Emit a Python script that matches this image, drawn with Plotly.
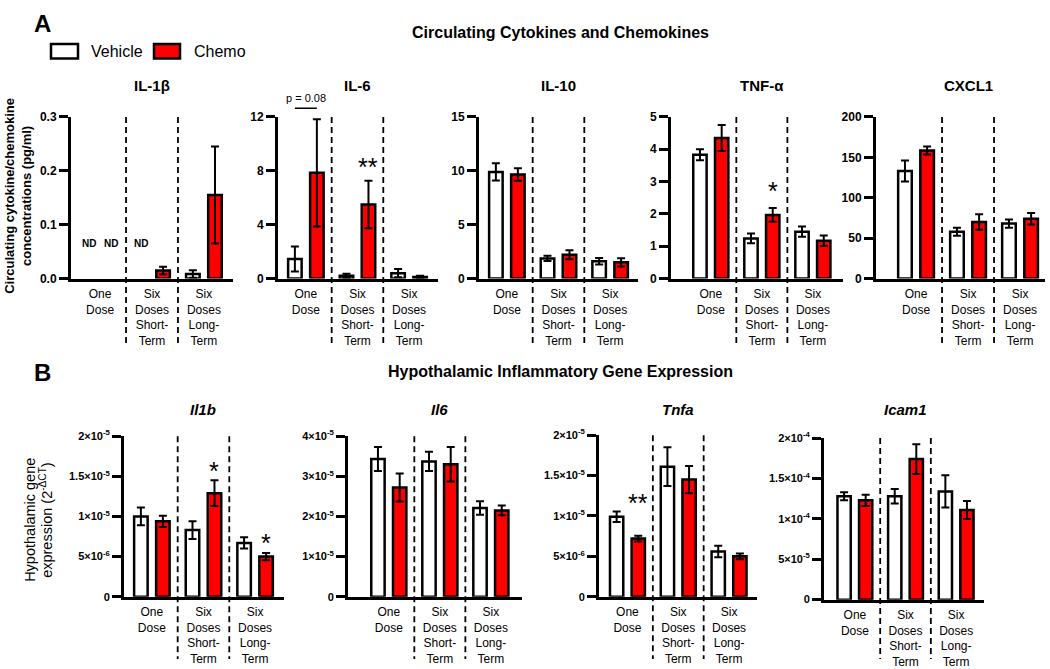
import plotly.graph_objects as go

W, H = 1050, 669
FONT = "Liberation Sans, Arial, Helvetica, sans-serif"

# ---------------- data ----------------
groups = ["One<br>Dose", "Six<br>Doses<br>Short-<br>Term", "Six<br>Doses<br>Long-<br>Term"]
series_names = ["Vehicle", "Chemo"]
series_colors = ["#ffffff", "#ff0000"]

# Panel A: circulating cytokines (pg/ml)
il1b_vehicle = [None, None, 0.0085]
il1b_vehicle_err = [None, None, 0.007]
il1b_chemo = [None, 0.015, 0.155]
il1b_chemo_err = [None, 0.007, 0.09]

il6_vehicle = [1.45, 0.2, 0.4]
il6_vehicle_err = [0.93, 0.15, 0.3]
il6_chemo = [7.85, 5.5, 0.12]
il6_chemo_err = [3.98, 1.77, 0.08]

il10_vehicle = [9.9, 1.87, 1.6]
il10_vehicle_err = [0.8, 0.25, 0.3]
il10_chemo = [9.67, 2.2, 1.5]
il10_chemo_err = [0.58, 0.42, 0.38]

tnf_vehicle = [3.83, 1.24, 1.45]
tnf_vehicle_err = [0.17, 0.15, 0.16]
tnf_chemo = [4.35, 1.97, 1.17]
tnf_chemo_err = [0.4, 0.21, 0.16]

cxcl1_vehicle = [133, 58, 68]
cxcl1_vehicle_err = [13, 5, 5]
cxcl1_chemo = [158.5, 70, 74]
cxcl1_chemo_err = [5, 9.5, 7]

# Panel B: hypothalamic gene expression (2^-dCT)
Il1b_vehicle = [1.0e-5, 8.3e-6, 6.7e-6]
Il1b_vehicle_err = [1.1e-6, 1.1e-6, 0.7e-6]
Il1b_chemo = [9.4e-6, 1.29e-5, 5.0e-6]
Il1b_chemo_err = [0.7e-6, 1.6e-6, 0.45e-6]

Il6_vehicle = [3.43e-5, 3.37e-5, 2.21e-5]
Il6_vehicle_err = [0.3e-5, 0.24e-5, 0.17e-5]
Il6_chemo = [2.72e-5, 3.3e-5, 2.15e-5]
Il6_chemo_err = [0.35e-5, 0.43e-5, 0.12e-5]

Tnfa_vehicle = [9.9e-6, 1.61e-5, 5.6e-6]
Tnfa_vehicle_err = [0.65e-6, 2.4e-6, 0.7e-6]
Tnfa_chemo = [7.2e-6, 1.45e-5, 5.0e-6]
Tnfa_chemo_err = [0.35e-6, 1.7e-6, 0.35e-6]

Icam1_vehicle = [1.28e-4, 1.28e-4, 1.34e-4]
Icam1_vehicle_err = [0.05e-4, 0.09e-4, 0.2e-4]
Icam1_chemo = [1.23e-4, 1.74e-4, 1.11e-4]
Icam1_chemo_err = [0.07e-4, 0.185e-4, 0.11e-4]

# tick labels
tick_il1b = [0, 0.1, 0.2, 0.3]
tick_il1b_text = ["0.0", "0.1", "0.2", "0.3"]
tick_il6 = [0, 4, 8, 12]
tick_il10 = [0, 5, 10, 15]
tick_tnf = [0, 1, 2, 3, 4, 5]
tick_cxcl1 = [0, 50, 100, 150, 200]
tick_gene2e5 = [0, 5e-6, 1e-5, 1.5e-5, 2e-5]
tick_gene2e5_text = ["0", "5×10<sup>-6</sup>", "1×10<sup>-5</sup>", "1.5×10<sup>-5</sup>", "2×10<sup>-5</sup>"]
tick_gene4e5 = [0, 1e-5, 2e-5, 3e-5, 4e-5]
tick_gene4e5_text = ["0", "1×10<sup>-5</sup>", "2×10<sup>-5</sup>", "3×10<sup>-5</sup>", "4×10<sup>-5</sup>"]
tick_icam = [0, 5e-5, 1e-4, 1.5e-4, 2e-4]
tick_icam_text = ["0", "5×10<sup>-5</sup>", "1×10<sup>-4</sup>", "1.5×10<sup>-4</sup>", "2×10<sup>-4</sup>"]

# significance marks: (panel title, group index, series index, text, y value)
sig_marks = [
    ("IL-6", 1, 1, "**", 8.75),
    ("TNF-α", 1, 1, "*", 2.89),
    ("<i>Il1b</i>", 1, 1, "*", 1.64e-5),
    ("<i>Il1b</i>", 2, 1, "*", 7.5e-6),
    ("<i>Tnfa</i>", 0, 1, "**", 1.23e-5),
    ("<i>Icam1</i>", 1, 1, "*", 2.07e-4),
]
nd_marks = [("IL-1β", 0, 0), ("IL-1β", 0, 1), ("IL-1β", 1, 0)]
nd_y = 0.065
pvalue_text = "p = 0.08"

# ---------------- layout of panels (pixel boxes) ----------------
panels = [
    dict(title="IL-1β", v=il1b_vehicle, ve=il1b_vehicle_err, c=il1b_chemo, ce=il1b_chemo_err,
         tv=tick_il1b, tt=tick_il1b_text, yr=[0, 0.3], box=(71, 233, 112, 278), xr=[-0.56, 2.56], row=0),
    dict(title="IL-6", v=il6_vehicle, ve=il6_vehicle_err, c=il6_chemo, ce=il6_chemo_err,
         tv=tick_il6, tt=[str(t) for t in tick_il6], yr=[0, 12], box=(278, 438, 112, 278), xr=[-0.54, 2.56], row=0),
    dict(title="IL-10", v=il10_vehicle, ve=il10_vehicle_err, c=il10_chemo, ce=il10_chemo_err,
         tv=tick_il10, tt=[str(t) for t in tick_il10], yr=[0, 15], box=(479, 638, 112, 278), xr=[-0.54, 2.54], row=0),
    dict(title="TNF-α", v=tnf_vehicle, ve=tnf_vehicle_err, c=tnf_chemo, ce=tnf_chemo_err,
         tv=tick_tnf, tt=[str(t) for t in tick_tnf], yr=[0, 5], box=(671, 843, 112, 278), xr=[-0.78, 2.59], row=0),
    dict(title="CXCL1", v=cxcl1_vehicle, ve=cxcl1_vehicle_err, c=cxcl1_chemo, ce=cxcl1_chemo_err,
         tv=tick_cxcl1, tt=[str(t) for t in tick_cxcl1], yr=[0, 200], box=(876, 1045, 112, 278), xr=[-0.77, 2.48], row=0),
    dict(title="<i>Il1b</i>", v=Il1b_vehicle, ve=Il1b_vehicle_err, c=Il1b_chemo, ce=Il1b_chemo_err,
         tv=tick_gene2e5, tt=tick_gene2e5_text, yr=[0, 2e-5], box=(124, 284, 440, 605), xr=[-0.54, 2.56], row=1),
    dict(title="<i>Il6</i>", v=Il6_vehicle, ve=Il6_vehicle_err, c=Il6_chemo, ce=Il6_chemo_err,
         tv=tick_gene4e5, tt=tick_gene4e5_text, yr=[0, 4e-5], box=(348, 522, 440, 605), xr=[-0.8, 2.61], row=1),
    dict(title="<i>Tnfa</i>", v=Tnfa_vehicle, ve=Tnfa_vehicle_err, c=Tnfa_chemo, ce=Tnfa_chemo_err,
         tv=tick_gene2e5, tt=tick_gene2e5_text, yr=[0, 2e-5], box=(599, 757, 439, 605), xr=[-0.56, 2.55], row=1),
    dict(title="<i>Icam1</i>", v=Icam1_vehicle, ve=Icam1_vehicle_err, c=Icam1_chemo, ce=Icam1_chemo_err,
         tv=tick_icam, tt=tick_icam_text, yr=[0, 2e-4], box=(824, 984, 442, 608), xr=[-0.61, 2.55], row=1),
]

BARGAP = 0.148
OFFSET = (1 - BARGAP) / 4  # centre offset of each bar within a group


def px_x(p):
    return p / W


def px_y(p):
    return (H - p) / H


fig = go.Figure()
shapes = []
annotations = []
title_idx = {}

for i, p in enumerate(panels):
    n = i + 1
    xa = "x" if n == 1 else f"x{n}"
    ya = "y" if n == 1 else f"y{n}"
    title_idx[p["title"]] = (xa, ya)
    for s, (vals, errs) in enumerate([(p["v"], p["ve"]), (p["c"], p["ce"])]):
        fig.add_trace(go.Bar(
            x=groups, y=vals, name=series_names[s], xaxis=xa, yaxis=ya,
            marker=dict(color=series_colors[s], line=dict(color="black", width=2.5)),
            error_y=dict(type="data", array=errs, visible=True, color="black", thickness=2, width=4),
            showlegend=False, cliponaxis=False, hoverinfo="skip",
        ))
    x0, x1, yt, yz = p["box"]
    fig.layout[f"xaxis{n}"] = dict(
        domain=[px_x(x0), px_x(x1)], anchor=ya, range=p["xr"], type="category",
        showline=True, linewidth=3, linecolor="black", ticks="", showgrid=False, zeroline=False,
        tickfont=dict(family=FONT, size=12, color="black"), ticklabelstandoff=2, fixedrange=True,
    )
    fig.layout[f"yaxis{n}"] = dict(
        domain=[px_y(yz), px_y(yt)], anchor=xa, range=p["yr"],
        tickvals=p["tv"], ticktext=p["tt"], tickmode="array",
        showline=True, linewidth=3, linecolor="black", ticks="outside", ticklen=9, tickwidth=2.5,
        tickcolor="black", showgrid=False, zeroline=False, fixedrange=True,
        tickfont=dict(family=FONT, size=12 if p["row"] == 0 else 11, color="black", weight="bold"),
    )
    # dashed separators between groups
    ybot = 345 if p["row"] == 0 else 669
    for xv in (0.5, 1.5):
        shapes.append(dict(type="line", xref=xa, yref="paper", x0=xv, x1=xv,
                           y0=px_y(yt), y1=px_y(ybot),
                           line=dict(color="black", width=1.8, dash="6px,4px")))
    # panel title, centred on the middle group
    cx = x0 + (x1 - x0) * (1 - p["xr"][0]) / (p["xr"][1] - p["xr"][0])
    annotations.append(dict(text=f"<b>{p['title']}</b>", xref="paper", yref="paper",
                            x=px_x(cx), y=px_y(80 if p["row"] == 0 else 413),
                            xanchor="center", yanchor="middle", showarrow=False,
                            font=dict(family=FONT, size=15, color="black")))

# significance asterisks
for t, g, s, txt, yv in sig_marks:
    xa, ya = title_idx[t]
    annotations.append(dict(text=txt, xref=xa, yref=ya, x=g + (2 * s - 1) * OFFSET, y=yv,
                            xanchor="center", yanchor="middle", showarrow=False, yshift=-6,
                            font=dict(family=FONT, size=25, color="black")))
# ND labels
for t, g, s in nd_marks:
    xa, ya = title_idx[t]
    annotations.append(dict(text="<b>ND</b>", xref=xa, yref=ya, x=g + (2 * s - 1) * OFFSET, y=nd_y,
                            xanchor="center", yanchor="middle", showarrow=False,
                            font=dict(family=FONT, size=10, color="black")))
# p-value bracket (IL-6, one dose)
xa6, ya6 = title_idx["IL-6"]
annotations.append(dict(text=pvalue_text, xref=xa6, yref="paper", x=0, y=px_y(93),
                        xanchor="center", yanchor="middle", showarrow=False,
                        font=dict(family=FONT, size=11, color="black")))
shapes.append(dict(type="line", xref=xa6, yref="paper", x0=-OFFSET, x1=OFFSET,
                   y0=px_y(103), y1=px_y(103), line=dict(color="black", width=1.5)))

# section labels and titles
annotations += [
    dict(text="<b>A</b>", xref="paper", yref="paper", x=px_x(42), y=px_y(16), xanchor="center",
         yanchor="middle", showarrow=False, font=dict(family=FONT, size=24, color="black")),
    dict(text="<b>B</b>", xref="paper", yref="paper", x=px_x(42), y=px_y(375), xanchor="center",
         yanchor="middle", showarrow=False, font=dict(family=FONT, size=24, color="black")),
    dict(text="<b>Circulating Cytokines and Chemokines</b>", xref="paper", yref="paper",
         x=px_x(560), y=px_y(25), xanchor="center", yanchor="middle", showarrow=False,
         font=dict(family=FONT, size=16, color="black")),
    dict(text="<b>Hypothalamic Inflammatory Gene Expression</b>", xref="paper", yref="paper",
         x=px_x(560), y=px_y(374), xanchor="center", yanchor="middle", showarrow=False,
         font=dict(family=FONT, size=16, color="black")),
    dict(text="<b>Circulating cytokine/chemokine<br>concentrations (pg/ml)</b>", xref="paper", yref="paper",
         x=px_x(18), y=px_y(193), xanchor="center", yanchor="middle", showarrow=False, textangle=-90,
         font=dict(family=FONT, size=13, color="black")),
    dict(text="Hypothalamic gene", xref="paper", yref="paper",
         x=px_x(30), y=px_y(526), xanchor="center", yanchor="middle", showarrow=False, textangle=-90,
         font=dict(family=FONT, size=14.5, color="black")),
    dict(text="expression (2<sup>-ΔCT</sup>)", xref="paper", yref="paper",
         x=px_x(46), y=px_y(526), xanchor="center", yanchor="middle", showarrow=False, textangle=-90,
         font=dict(family=FONT, size=14.5, color="black")),
]

# legend
legend_items = [(51, 78, 89), (154, 180, 192)]
for (bx0, bx1, tx), name, col in zip(legend_items, series_names, series_colors):
    shapes.append(dict(type="rect", xref="paper", yref="paper", x0=px_x(bx0), x1=px_x(bx1),
                       y0=px_y(52), y1=px_y(37), fillcolor=col, line=dict(color="black", width=2.5)))
    annotations.append(dict(text=name, xref="paper", yref="paper", x=px_x(tx), y=px_y(45),
                            xanchor="left", yanchor="middle", showarrow=False,
                            font=dict(family=FONT, size=16, color="black")))

fig.update_layout(
    width=W, height=H, margin=dict(l=0, r=0, t=0, b=0),
    plot_bgcolor="white", paper_bgcolor="white", showlegend=False,
    barmode="group", bargap=BARGAP, bargroupgap=0.385,
    font=dict(family=FONT, color="black"),
    shapes=shapes, annotations=annotations,
)

fig.write_html(
    "out.html",
    config={"displayModeBar": False, "staticPlot": False},
    post_script="document.body.style.margin='0';document.body.style.padding='0';"
                "document.documentElement.style.overflow='hidden';",
)
